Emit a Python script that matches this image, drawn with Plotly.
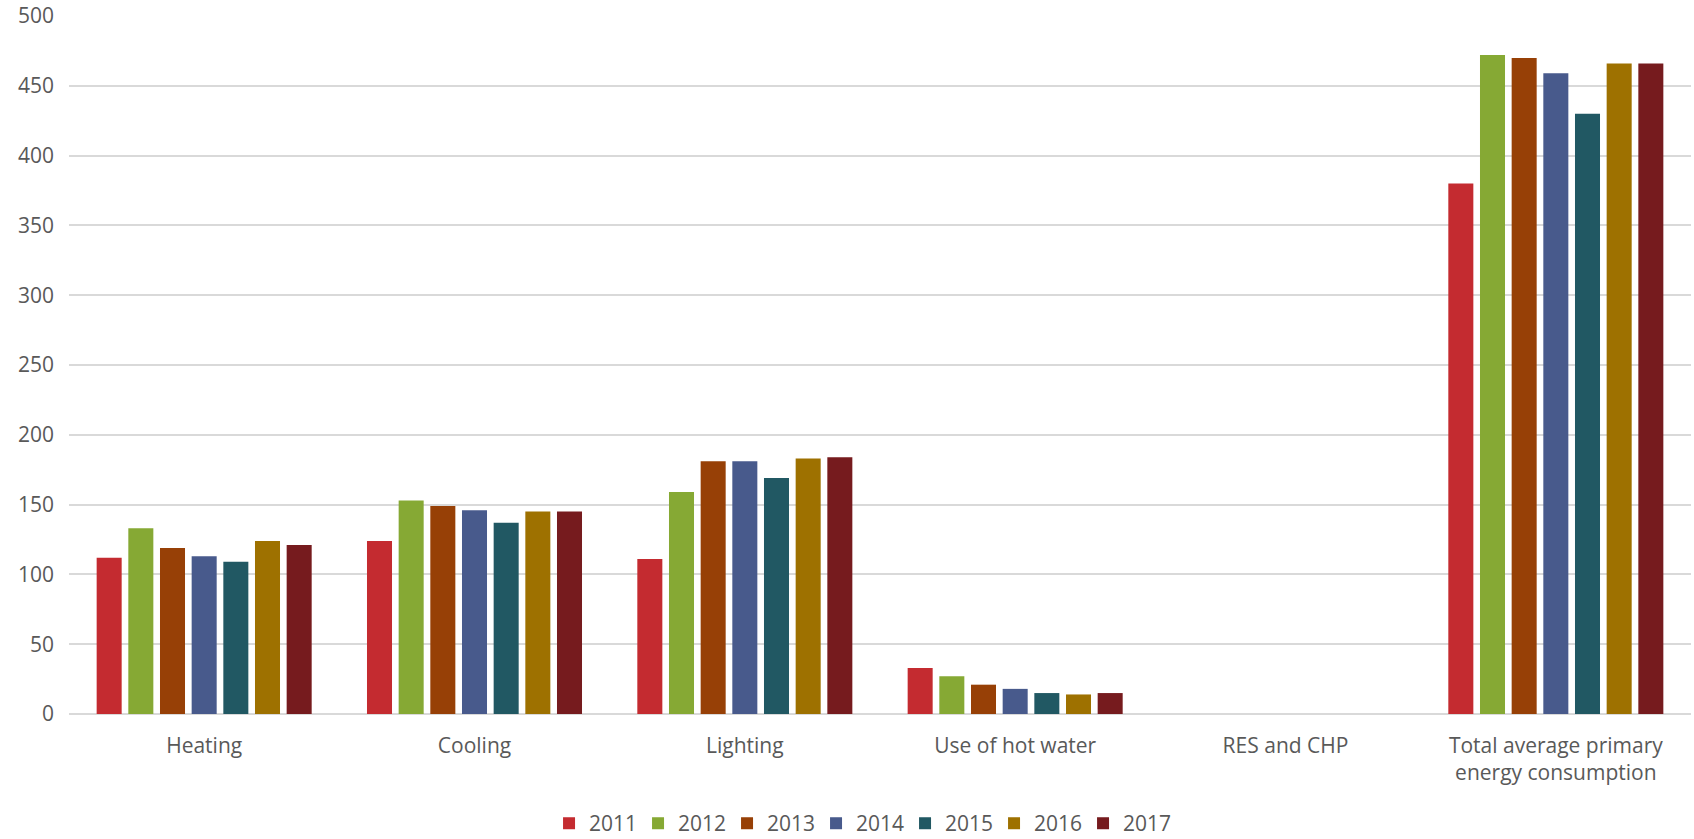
import plotly.graph_objects as go

# Primary energy consumption by end use, per year
categories = [
    "Heating",
    "Cooling",
    "Lighting",
    "Use of hot water",
    "RES and CHP",
    "Total average primary<br>energy consumption",
]
years = ["2011", "2012", "2013", "2014", "2015", "2016", "2017"]

values_2011 = [112, 124, 111, 33, 0, 380]
values_2012 = [133, 153, 159, 27, 0, 472]
values_2013 = [119, 149, 181, 21, 0, 470]
values_2014 = [113, 146, 181, 18, 0, 459]
values_2015 = [109, 137, 169, 15, 0, 430]
values_2016 = [124, 145, 183, 14, 0, 466]
values_2017 = [121, 145, 184, 15, 0, 466]

series = [values_2011, values_2012, values_2013, values_2014,
          values_2015, values_2016, values_2017]
colors = ["#C42B30", "#86A934", "#974006", "#485A8C",
          "#215863", "#9E7100", "#761B1E"]

y_ticks = [0, 50, 100, 150, 200, 250, 300, 350, 400, 450, 500]

text_color = "#595959"
grid_color = "#D9D9D9"
font_family = "Open Sans, Segoe UI, Calibri, sans-serif"

fig = go.Figure()
for year, vals, col in zip(years, series, colors):
    fig.add_trace(go.Bar(
        name=year,
        x=categories,
        y=vals,
        marker=dict(color=col, line=dict(width=0)),
    ))

fig.update_layout(
    width=1694,
    height=839,
    margin=dict(l=69, r=3, t=16, b=125, autoexpand=False),
    paper_bgcolor="white",
    plot_bgcolor="white",
    barmode="group",
    bargap=0.18,
    bargroupgap=0.21,
    font=dict(family=font_family, size=21, color=text_color),
    showlegend=True,
    legend=dict(
        orientation="h",
        x=0.488,
        xanchor="center",
        y=-0.157,
        yanchor="middle",
        font=dict(size=21, color=text_color),
        itemwidth=30,
        entrywidth=44,
        traceorder="normal",
    ),
    xaxis=dict(
        showgrid=False,
        showline=False,
        ticks="",
        tickfont=dict(size=21, color=text_color),
        ticklabelstandoff=17,
        automargin=False,
    ),
    yaxis=dict(
        range=[0, 500],
        tickvals=y_ticks,
        showgrid=True,
        gridcolor=grid_color,
        gridwidth=1.5,
        zeroline=True,
        zerolinecolor=grid_color,
        zerolinewidth=1.5,
        showline=False,
        ticks="",
        tickfont=dict(size=21, color=text_color),
        ticklabelstandoff=14,
        automargin=False,
    ),
)

fig.write_html("out.html")
